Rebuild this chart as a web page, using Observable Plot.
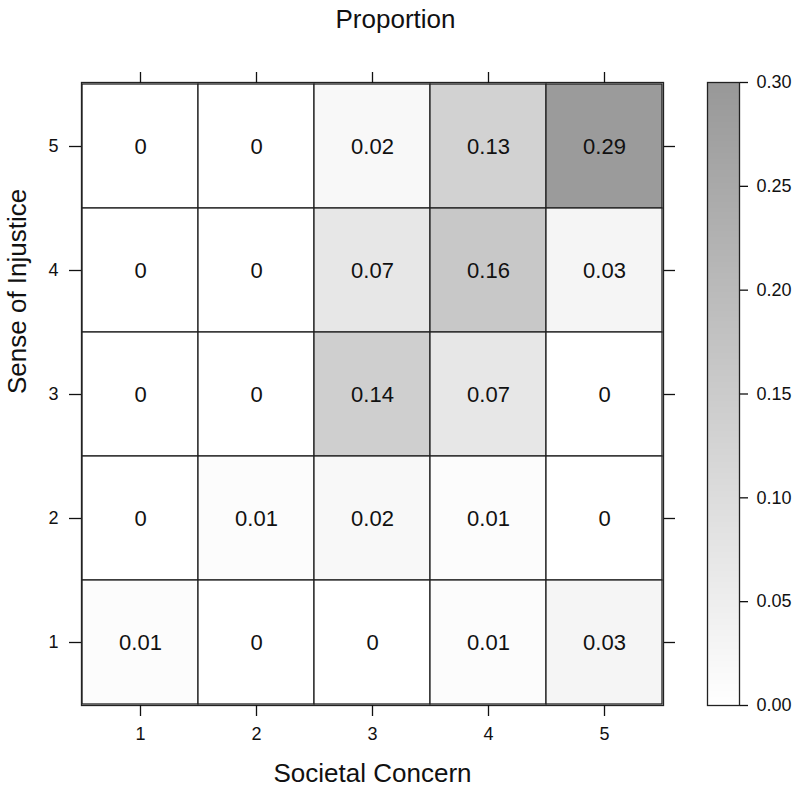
<!DOCTYPE html>
<html>
<head>
<meta charset="utf-8">
<script src="https://cdn.jsdelivr.net/npm/d3@7"></script>
<script src="https://cdn.jsdelivr.net/npm/@observablehq/plot@0.6"></script>
<style>
  html, body { margin: 0; padding: 0; background: #fff; }
  #wrap { position: relative; width: 795px; height: 787px; font-family: "Liberation Sans", Arial, Helvetica, sans-serif; }
  #wrap svg { position: absolute; }
</style>
</head>
<body>
<div id="wrap"></div>
<script>
// Data: proportion for each (Societal Concern, Sense of Injustice)
const societalConcern = [1, 2, 3, 4, 5];
const senseOfInjustice = [5, 4, 3, 2, 1];
// rows ordered by Sense of Injustice 5 (top) ... 1 (bottom), columns Societal Concern 1..5
const proportionRows = [
  [0, 0, 0.02, 0.13, 0.29],
  [0, 0, 0.07, 0.16, 0.03],
  [0, 0, 0.14, 0.07, 0],
  [0, 0.01, 0.02, 0.01, 0],
  [0.01, 0, 0, 0.01, 0.03]
];
const colorTicks = [0, 0.05, 0.10, 0.15, 0.20, 0.25, 0.30];
const titleText = "Proportion";
const xLabel = "Societal Concern";
const yLabel = "Sense of Injustice";

const cells = [];
senseOfInjustice.forEach((s, i) => {
  societalConcern.forEach((c, j) => {
    cells.push({concern: c, injustice: s, value: proportionRows[i][j]});
  });
});

const colorOpts = {type: "linear", domain: [0, 0.3], range: ["#ffffff", "#989898"]};
const FONT = '"Liberation Sans", Arial, Helvetica, sans-serif';

const main = Plot.plot({
  width: 795,
  height: 787,
  marginTop: 82,
  marginBottom: 82,
  marginLeft: 81,
  marginRight: 132,
  style: {fontFamily: FONT, fontSize: "18px", color: "#111", background: "transparent"},
  x: {type: "band", domain: societalConcern, padding: 0},
  y: {type: "band", domain: senseOfInjustice, padding: 0},
  color: colorOpts,
  marks: [
    Plot.cell(cells, {x: "concern", y: "injustice", fill: "value", stroke: "#222", strokeWidth: 1.3}),
    Plot.text(cells, {x: "concern", y: "injustice", text: d => String(d.value), fontSize: 22, fill: "#111"}),
    Plot.frame({stroke: "#222", strokeWidth: 1.3}),
    Plot.axisX({anchor: "bottom", tickSize: 11, tickPadding: 11, fontSize: 18, label: null, strokeWidth: 1.3}),
    Plot.axisX({anchor: "top", tickSize: 11, tickFormat: () => "", label: null, strokeWidth: 1.3}),
    Plot.axisY({anchor: "left", tickSize: 12, tickPadding: 11, fontSize: 18, label: null, strokeWidth: 1.3}),
    Plot.axisY({anchor: "right", tickSize: 11, tickFormat: () => "", label: null, strokeWidth: 1.3}),
    Plot.text([titleText], {frameAnchor: "top", lineAnchor: "bottom", dy: -55, dx: 23, text: d => d, fontSize: 26, fill: "#111"}),
    Plot.text([xLabel], {frameAnchor: "bottom", lineAnchor: "top", dy: 58, text: d => d, fontSize: 26, fill: "#111"}),
    Plot.text([yLabel], {frameAnchor: "left", lineAnchor: "middle", rotate: -90, dx: -63.5, text: d => d, fontSize: 26, fill: "#111"})
  ]
});
main.style.left = "0px";
main.style.top = "0px";

const bar = Plot.plot({
  width: 105,
  height: 787,
  marginTop: 82,
  marginBottom: 82,
  marginLeft: 17,
  marginRight: 56,
  style: {fontFamily: FONT, fontSize: "18px", color: "#111", background: "transparent"},
  x: {domain: [0, 1], axis: null},
  y: {domain: [0, 0.3], axis: null},
  color: colorOpts,
  marks: [
    Plot.raster({x1: 0, x2: 1, y1: 0, y2: 0.3, width: 1, height: 400, fill: (x, y) => y, imageRendering: "auto"}),
    Plot.frame({stroke: "#222", strokeWidth: 1.3}),
    Plot.axisY({anchor: "right", ticks: colorTicks, tickFormat: d3.format(".2f"), tickSize: 8, tickPadding: 9, fontSize: 18, label: null, strokeWidth: 1.3})
  ]
});
bar.style.left = "690px";
bar.style.top = "0px";

const wrap = document.getElementById("wrap");
wrap.appendChild(main);
wrap.appendChild(bar);
</script>
</body>
</html>
